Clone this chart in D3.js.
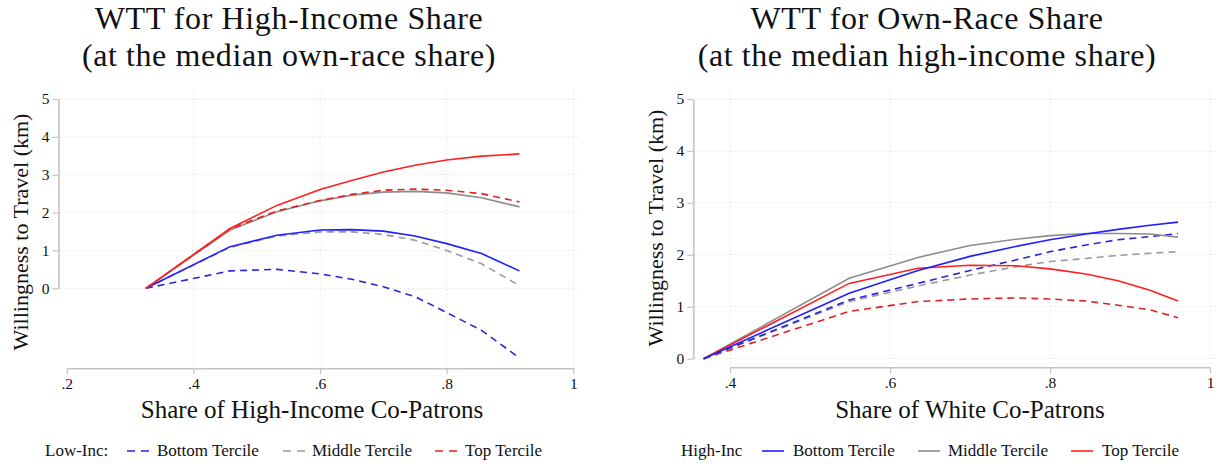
<!DOCTYPE html>
<html>
<head>
<meta charset="utf-8">
<script src="https://cdn.jsdelivr.net/npm/d3@7"></script>
</head>
<body style="margin:0;background:#fff">
<svg id="chart" width="1222" height="466" style="display:block"></svg>
<script>
// Willingness to travel (km) by share of co-patrons, by income tercile group.
// Left panel: high-income share (at median own-race share)
const incomeShare = [0.325, 0.458, 0.532, 0.6, 0.65, 0.7, 0.75, 0.8, 0.855, 0.915];
const incHiBottom = [0, 1.10, 1.40, 1.54, 1.55, 1.51, 1.38, 1.18, 0.92, 0.46];
const incHiMiddle = [0, 1.54, 2.02, 2.31, 2.46, 2.54, 2.56, 2.52, 2.39, 2.15];
const incHiTop    = [0, 1.58, 2.19, 2.61, 2.85, 3.07, 3.25, 3.39, 3.49, 3.55];
const incLoBottom = [0, 0.46, 0.50, 0.38, 0.24, 0.04, -0.22, -0.64, -1.11, -1.84];
const incLoMiddle = [0, 1.08, 1.38, 1.49, 1.49, 1.42, 1.27, 1.00, 0.65, 0.07];
const incLoTop    = [0, 1.57, 2.04, 2.32, 2.48, 2.59, 2.62, 2.59, 2.50, 2.28];

// Right panel: own-race (white) share (at median high-income share)
const raceShare = [0.367, 0.549, 0.635, 0.70, 0.757, 0.80, 0.845, 0.885, 0.925, 0.96];
const raceHiBottom = [0, 1.26, 1.70, 1.97, 2.16, 2.29, 2.40, 2.49, 2.57, 2.63];
const raceHiMiddle = [0, 1.55, 1.95, 2.18, 2.30, 2.37, 2.41, 2.41, 2.40, 2.34];
const raceHiTop    = [0, 1.45, 1.74, 1.80, 1.79, 1.73, 1.63, 1.50, 1.32, 1.11];
const raceLoBottom = [0, 1.13, 1.45, 1.70, 1.90, 2.06, 2.19, 2.29, 2.35, 2.41];
const raceLoMiddle = [0, 1.10, 1.40, 1.61, 1.77, 1.87, 1.93, 1.99, 2.03, 2.06];
const raceLoTop    = [0, 0.91, 1.10, 1.15, 1.17, 1.15, 1.11, 1.03, 0.94, 0.79];

const yTicks = [0, 1, 2, 3, 4, 5];
const leftXTicks = [0.2, 0.4, 0.6, 0.8, 1];
const rightXTicks = [0.4, 0.6, 0.8, 1];
const terciles = ["Bottom Tercile", "Middle Tercile", "Top Tercile"];

const colors = { bottom: "#1f1fff", middle: "#8c8c8c", top: "#ff1f1f" };
const colorsDashed = { bottom: "#2626d9", middle: "#9a9a9a", top: "#e02020" };
const DASH = "7,5";
const SERIF = "'Liberation Serif'";

const svg = d3.select("#chart");
const fmtTick = d => d === 1 ? "1" : d3.format(".1f")(d).replace(/^0/, "");

function label(sel, size) {
  return sel.style("font-family", SERIF).style("font-size", size + "px").attr("fill", "#111");
}

function drawPanel(p) {
  const g = svg.append("g");
  const x = d3.scaleLinear().domain(p.xDomain).range(p.xRange);
  const y = d3.scaleLinear().domain([0, 5]).range(p.yRange);

  // dotted grid
  g.append("g").selectAll("line").data(yTicks).join("line")
    .attr("x1", p.axisX + 2).attr("x2", p.gridRight)
    .attr("y1", d => y(d)).attr("y2", d => y(d))
    .attr("stroke", "#d4d4d4").attr("stroke-width", 1).attr("stroke-dasharray", "1,3");
  g.append("g").selectAll("line").data(p.vGrid).join("line")
    .attr("x1", d => x(d)).attr("x2", d => x(d))
    .attr("y1", p.gridTop).attr("y2", p.axisY - 1)
    .attr("stroke", "#d4d4d4").attr("stroke-width", 1).attr("stroke-dasharray", "1,3");

  // axes
  const yAxis = g.append("g").attr("transform", `translate(${p.axisX},0)`)
    .call(d3.axisLeft(y).tickValues(yTicks).tickSize(6).tickSizeOuter(0).tickPadding(3).tickFormat(d3.format("d")));
  const xAxis = g.append("g").attr("transform", `translate(0,${p.axisY})`)
    .call(d3.axisBottom(x).tickValues(p.xTicks).tickSize(6).tickSizeOuter(0).tickPadding(4).tickFormat(fmtTick));
  [yAxis, xAxis].forEach(a => {
    a.attr("font-family", null);
    a.select(".domain").attr("stroke", "#c4c4c4").attr("stroke-width", 1.6);
    a.selectAll(".tick line").attr("stroke", "#c4c4c4").attr("stroke-width", 1.2);
    label(a.selectAll(".tick text"), 15.5);
  });

  // series
  const line = d3.line().x((d, i) => x(p.xs[i])).y(d => y(d));
  p.series.forEach(s => {
    g.append("path").datum(s.values)
      .attr("d", line)
      .attr("fill", "none")
      .attr("stroke", s.color)
      .attr("stroke-width", 1.6)
      .attr("stroke-dasharray", s.dashed ? DASH : null);
  });

  // titles
  label(g.append("text"), 32).attr("x", p.titleX).attr("y", 29).attr("text-anchor", "middle")
    .style("letter-spacing", "0.6px").text(p.title1);
  label(g.append("text"), 32).attr("x", p.titleX).attr("y", 66).attr("text-anchor", "middle")
    .style("letter-spacing", "0.6px").text(p.title2);

  label(g.append("text"), 22)
    .attr("transform", `translate(${p.yTitleX},${p.yTitleY}) rotate(-90)`)
    .attr("text-anchor", "middle").text("Willingness to Travel (km)");
  label(g.append("text"), 25).attr("x", p.xTitleX).attr("y", 418).attr("text-anchor", "middle")
    .text(p.xTitle);

  // legend
  const lg = g.append("g");
  label(lg.append("text"), 17).attr("x", p.legend.labelX).attr("y", 456).text(p.legend.label);
  p.legend.items.forEach((it, i) => {
    lg.append("line").attr("x1", it.x).attr("x2", it.x + 22).attr("y1", 451).attr("y2", 451)
      .attr("stroke", it.color).attr("stroke-width", 1.6)
      .attr("stroke-dasharray", p.legend.dashed ? "8,6" : null);
    label(lg.append("text"), 17).attr("x", it.tx).attr("y", 456).text(terciles[i]);
  });
}

drawPanel({
  xDomain: [0.2, 1], xRange: [66.7, 573.3], yRange: [288.3, 99],
  axisX: 58.5, axisY: 368.3, gridRight: 580, gridTop: 90,
  xTicks: leftXTicks, vGrid: [0.4, 0.6, 0.8, 1],
  xs: incomeShare,
  series: [
    { values: incLoBottom, color: colorsDashed.bottom, dashed: true },
    { values: incLoMiddle, color: colorsDashed.middle, dashed: true },
    { values: incHiMiddle, color: colors.middle },
    { values: incLoTop, color: colorsDashed.top, dashed: true },
    { values: incHiBottom, color: colors.bottom },
    { values: incHiTop, color: colors.top }
  ],
  titleX: 289, title1: "WTT for High-Income Share", title2: "(at the median own-race share)",
  yTitleX: 28, yTitleY: 232, xTitleX: 312, xTitle: "Share of High-Income Co-Patrons",
  legend: {
    label: "Low-Inc:", labelX: 45, dashed: true,
    items: [
      { x: 127, tx: 157, color: colorsDashed.bottom },
      { x: 283, tx: 312, color: colorsDashed.middle },
      { x: 435, tx: 465, color: colorsDashed.top }
    ]
  }
});

drawPanel({
  xDomain: [0.4, 1], xRange: [730, 1210], yRange: [358.7, 99],
  axisX: 693.3, axisY: 367.3, gridRight: 1217, gridTop: 90,
  xTicks: rightXTicks, vGrid: [0.4, 0.6, 0.8, 1],
  xs: raceShare,
  series: [
    { values: raceLoTop, color: colorsDashed.top, dashed: true },
    { values: raceLoMiddle, color: colorsDashed.middle, dashed: true },
    { values: raceLoBottom, color: colorsDashed.bottom, dashed: true },
    { values: raceHiMiddle, color: colors.middle },
    { values: raceHiTop, color: colors.top },
    { values: raceHiBottom, color: colors.bottom }
  ],
  titleX: 927, title1: "WTT for Own-Race Share", title2: "(at the median high-income share)",
  yTitleX: 663, yTitleY: 228, xTitleX: 970, xTitle: "Share of White Co-Patrons",
  legend: {
    label: "High-Inc", labelX: 681, dashed: false,
    items: [
      { x: 762, tx: 793, color: colors.bottom },
      { x: 918, tx: 948, color: colors.middle },
      { x: 1071, tx: 1102, color: colors.top }
    ]
  }
});
</script>
</body>
</html>
